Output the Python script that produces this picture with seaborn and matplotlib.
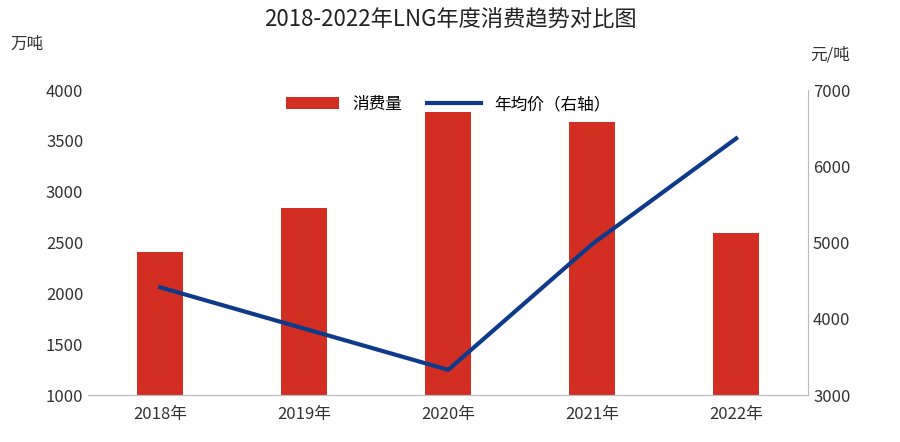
import matplotlib
matplotlib.use("Agg")
import matplotlib.pyplot as plt
from matplotlib import font_manager as fm
import seaborn as sns
import pandas as pd

cjk = [f.name for f in fm.fontManager.ttflist if "CJK" in f.name]
fams = [n for n in ["Noto Sans CJK SC", "Noto Sans CJK JP"] if n in cjk] or cjk[:1]
plt.rcParams["font.family"] = ["sans-serif"]
plt.rcParams["font.sans-serif"] = fams + ["DejaVu Sans"]

years = ["2018年", "2019年", "2020年", "2021年", "2022年"]
consumption = [2407, 2840, 3784, 3685, 2594]
avg_price = [4414, 3873, 3332, 4981, 6367]

df = pd.DataFrame({"year": years, "consumption": consumption, "price": avg_price})

fig = plt.figure(figsize=(9, 4.42), dpi=100)
ax = fig.add_axes([0.098, 0.106, 0.80, 0.69])
sns.barplot(data=df, x="year", y="consumption", color="#D22E22", width=0.32,
            saturation=1, ax=ax, label="消费量")
ax.set_ylim(1000, 4000)
ax.set_yticks(range(1000, 4001, 500))
ax.set_xlabel("")
ax.set_ylabel("")
ax2 = ax.twinx()
sns.lineplot(x=list(range(len(years))), y=df["price"], color="#0E3A8A", linewidth=3,
             ax=ax2, label="年均价（右轴）")
ax2.set_ylim(3000, 7000)
ax2.set_yticks(range(3000, 7001, 1000))
ax2.set_ylabel("")
ax.set_xlim(-0.5, 4.5)

for a in (ax, ax2):
    a.tick_params(labelsize=12, colors="#333333", length=0)
    for s in ("top", "left"):
        a.spines[s].set_visible(False)
ax.spines["right"].set_visible(False)
ax2.spines["right"].set_color("#BBBBBB")
ax2.spines["bottom"].set_color("#BBBBBB")
ax.spines["bottom"].set_color("#BBBBBB")
ax.tick_params(axis="x", pad=8)

h1, l1 = ax.get_legend_handles_labels()
h2, l2 = ax2.get_legend_handles_labels()
if ax.get_legend():
    ax.get_legend().remove()
ax2.legend(h1 + h2, l1 + l2, loc="upper center", ncol=2, frameon=False,
           fontsize=12, bbox_to_anchor=(0.5, 1.03), handlelength=3.2, columnspacing=1.5)

fig.text(0.5, 0.955, "2018-2022年LNG年度消费趋势对比图", ha="center", va="center", fontsize=16, color="#222222")
fig.text(0.012, 0.90, "万吨", fontsize=12, color="#333333", va="center")
fig.text(0.90, 0.875, "元/吨", fontsize=12, color="#333333", va="center")
fig.savefig("out.png", dpi=100)
